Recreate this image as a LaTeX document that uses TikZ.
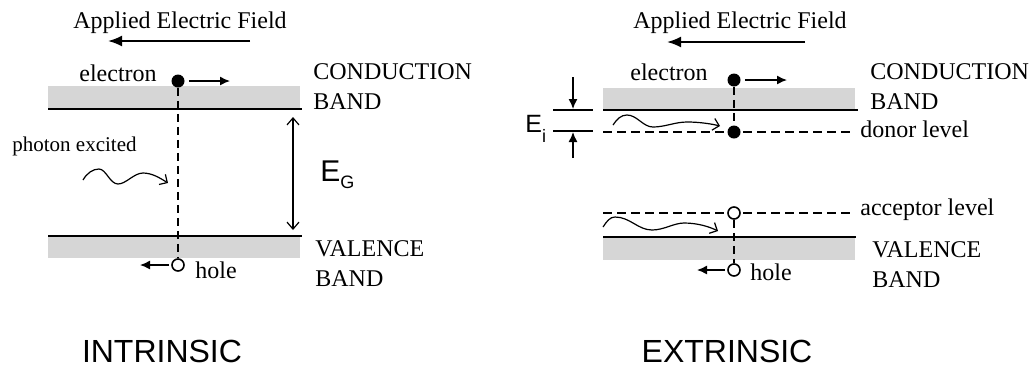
\documentclass[tikz,border=0pt]{standalone}
\usepackage{fontspec}
\setmainfont{Liberation Serif}
\newfontfamily\arialfont{Liberation Sans}
\usetikzlibrary{arrows.meta, positioning}

\begin{document}
\begin{tikzpicture}[
    x=0.5pt, y=-0.5pt,
    font=\fontsize{12}{15}\selectfont,
    band/.style={fill=gray!32},
    bandline/.style={line width=1.4pt},
    level/.style={line width=1.4pt, dash pattern=on 4.5pt off 2.5pt},
    trace/.style={line width=0.9pt, dash pattern=on 4pt off 2.5pt},
    edot/.style={circle, fill=black, inner sep=0pt, minimum size=6.5pt},
    hdot/.style={circle, draw=black, fill=white, line width=0.8pt, inner sep=0pt, minimum size=6pt},
    lbl/.style={inner sep=0pt},
    fieldarrow/.style={-{Latex[length=7pt,width=5.5pt]}, line width=1pt},
    arrow/.style={-{Latex[length=5pt,width=4.5pt]}, line width=0.7pt},
    wave/.style={-{Straight Barb[length=3pt,width=6pt]}, line width=0.6pt},
    gaparrow/.style={{Straight Barb[length=3.5pt,width=6pt]}-{Straight Barb[length=3.5pt,width=6pt]}, line width=0.6pt},
    bigfont/.style={font=\arialfont\fontsize{16}{16}\selectfont}
]
\useasboundingbox (0,0) rectangle (1034,366);

% Intrinsic: applied field
\node[anchor=base] (field_i) at (180,28) {Applied Electric Field};
\coordinate (field_i_a) at (250,41);
\coordinate (field_i_b) at (108,41);
\draw[fieldarrow] (field_i_a) -- (field_i_b);

% Intrinsic: bands
\fill[band] (48,86) rectangle (300,108);
\draw[bandline] (48,109) -- (302,109);
\draw[bandline] (48,236) -- (302,236);
\fill[band] (48,237) rectangle (300,258);
\node[lbl, anchor=north west, align=left] (cb_i) at (313,63) {CONDUCTION\\BAND};
\node[lbl, anchor=north west, align=left] (vb_i) at (315,240) {VALENCE\\BAND};

% Intrinsic: electron and hole
\node[edot] (e_i) at (178,81) {};
\node[hdot] (h_i) at (178,265) {};
\draw[trace] (e_i) -- (h_i);
\node[lbl, left=7pt of e_i, anchor=base east] (e_i_lbl) {electron};
\coordinate (e_i_go) at (230,81);
\draw[arrow, shorten <=2pt] (e_i) -- (e_i_go);
\coordinate (h_i_go) at (140,265);
\draw[arrow, shorten <=1pt] (h_i) -- (h_i_go);
\node[lbl, anchor=base west] (h_i_lbl) at (195,278) {hole};

% Intrinsic: photon and gap
\node[lbl, anchor=base west, font=\fontsize{10.5}{12}\selectfont] (ph_i_lbl) at (12,151) {photon excited};
\coordinate (ph_i_a) at (83,180);
\coordinate (ph_i_b) at (168,183);
\draw[wave] (ph_i_a) .. controls (87,173) and (93,169) .. (99,169)
    .. controls (106,169) and (110,184) .. (118,184)
    .. controls (126,184) and (134,173) .. (143,173)
    .. controls (152,173) and (160,178) .. (ph_i_b);
\coordinate (eg_top) at (293,117);
\coordinate (eg_bot) at (293,230);
\draw[gaparrow] (eg_top) -- (eg_bot);
\node[lbl, anchor=base west, font=\arialfont\fontsize{15}{15}\selectfont] (eg_lbl) at (320,181) {E\raisebox{-3.5pt}{\fontsize{9}{9}\selectfont G}};

% Extrinsic: applied field
\node[anchor=base] (field_x) at (740,28) {Applied Electric Field};
\coordinate (field_x_a) at (805,42);
\coordinate (field_x_b) at (667,42);
\draw[fieldarrow] (field_x_a) -- (field_x_b);

% Extrinsic: bands
\fill[band] (603,88) rectangle (855,109);
\draw[bandline] (603,110) -- (858,110);
\draw[bandline] (603,237) -- (856,237);
\fill[band] (603,238) rectangle (855,260);
\node[lbl, anchor=north west, align=left] (cb_x) at (870,63) {CONDUCTION\\BAND};
\node[lbl, anchor=north west, align=left] (vb_x) at (872,241) {VALENCE\\BAND};

% Extrinsic: impurity levels
\coordinate (dl_a) at (603,132);
\coordinate (dl_b) at (853,132);
\draw[level] (dl_a) -- (dl_b);
\node[lbl, anchor=base west] (dl_lbl) at (860,137) {donor level};
\coordinate (al_a) at (603,213);
\coordinate (al_b) at (853,213);
\draw[level] (al_a) -- (al_b);
\node[lbl, anchor=base west] (al_lbl) at (860,215) {acceptor level};

% Extrinsic: carriers
\node[edot] (e_x) at (734,80) {};
\node[edot] (d_x) at (734,132) {};
\node[hdot] (a_x) at (734,213) {};
\node[hdot] (h_x) at (734,270) {};
\draw[trace] (e_x) -- (d_x);
\draw[trace] (a_x) -- (h_x);
\node[lbl, left=9.5pt of e_x, anchor=base east] (e_x_lbl) {electron};
\coordinate (e_x_go) at (787,80);
\draw[arrow, shorten <=2pt] (e_x) -- (e_x_go);
\coordinate (h_x_go) at (697,270);
\draw[arrow, shorten <=1pt] (h_x) -- (h_x_go);
\node[lbl, anchor=base west] (h_x_lbl) at (750,280) {hole};

% Extrinsic: photons
\coordinate (ph_d_a) at (613,125);
\coordinate (ph_d_b) at (720,126);
\draw[wave] (ph_d_a) .. controls (617,119) and (621,115) .. (627,115)
    .. controls (637,115) and (643,127) .. (653,127)
    .. controls (665,127) and (675,122) .. (687,122)
    .. controls (700,122) and (712,124) .. (ph_d_b);
\coordinate (ph_a_a) at (603,227);
\coordinate (ph_a_b) at (718,231);
\draw[wave] (ph_a_a) .. controls (607,221) and (610,217) .. (615,217)
    .. controls (630,217) and (638,230) .. (652,230)
    .. controls (664,230) and (674,223) .. (684,223)
    .. controls (698,223) and (710,227) .. (ph_a_b);

% Extrinsic: ionization energy
\coordinate (ei_up_a) at (553,110);
\coordinate (ei_up_b) at (593,110);
\coordinate (ei_lo_a) at (553,131);
\coordinate (ei_lo_b) at (593,131);
\draw[line width=0.7pt] (ei_up_a) -- (ei_up_b);
\draw[line width=0.7pt] (ei_lo_a) -- (ei_lo_b);
\coordinate (ei_top) at (573,77);
\coordinate (ei_up_m) at (573,109);
\coordinate (ei_bot) at (573,158);
\coordinate (ei_lo_m) at (573,132);
\draw[arrow] (ei_top) -- (ei_up_m);
\draw[arrow] (ei_bot) -- (ei_lo_m);
\node[lbl, anchor=base west, font=\arialfont\fontsize{12.5}{12.5}\selectfont] (ei_lbl) at (525,132) {E\raisebox{-5pt}{\fontsize{9}{9}\selectfont i}};

% Titles
\node[bigfont, anchor=base] (intr) at (162,362) {INTRINSIC};
\node[bigfont, anchor=base] (extr) at (727,362) {EXTRINSIC};

\end{tikzpicture}
\end{document}
